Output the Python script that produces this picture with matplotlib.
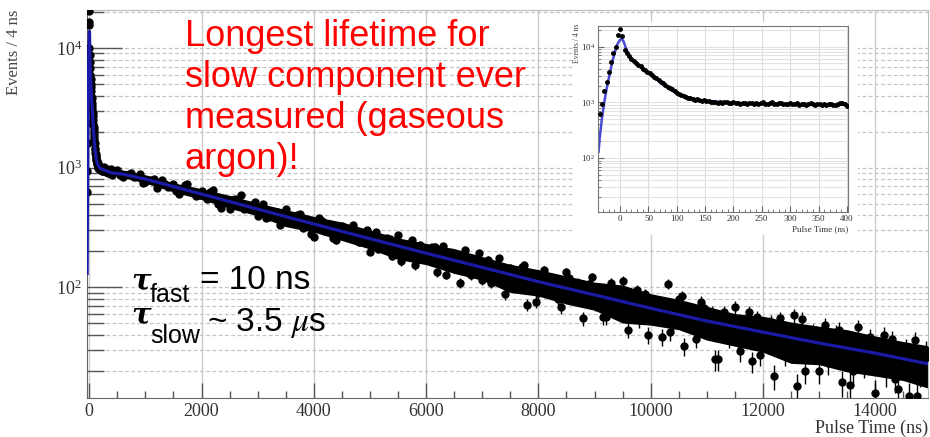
import numpy as np
import matplotlib
matplotlib.use("Agg")
import matplotlib.pyplot as plt
from matplotlib.ticker import LogLocator, MultipleLocator, NullFormatter
from matplotlib.patches import Rectangle

plt.rcParams['font.family'] = ['Liberation Serif', 'DejaVu Serif']
plt.rcParams['mathtext.fontset'] = 'stix'

# fast part (4 ns bins), shared by main plot and inset
t_fast = np.arange(-36, 401, 4)
n_fast = [620, 930, 1600, 2350, 3560, 5300, 7600, 10000, 16500, 20500,
          15500, 8700, 7600, 6800, 6000, 5500, 5000, 4700, 4400, 4000,
          3800, 3500, 3300, 3100, 2850, 2700, 2500, 2300, 2200, 2050,
          1900, 1800, 1700, 1600, 1450, 1400, 1330, 1300, 1250, 1220,
          1180, 1150, 1120, 1130, 1080, 1070, 1100, 1040, 1060, 1020,
          1000, 1030, 990, 1010, 980, 1000, 1020, 970, 990, 1000,
          960, 980, 950, 990, 970, 940, 960, 990, 950, 960,
          930, 980, 1000, 950, 940, 970, 1010, 950, 930, 960,
          980, 940, 950, 920, 960, 940, 930, 970, 910, 950,
          930, 900, 940, 960, 920, 900, 950, 930, 910, 940,
          900, 920, 950, 910, 900, 930, 960, 970, 930, 870]

# slow tail, read every 100 ns
t_slow = np.arange(500, 15000, 100)
n_slow = [951, 828, 884, 829, 880, 761, 786, 680, 786, 693,
          726, 601, 717, 636, 573, 636, 548, 651, 492, 550,
          449, 549, 586, 455, 490, 395, 491, 386, 427, 328,
          452, 364, 400, 312, 353, 264, 380, 293, 328, 247,
          327, 278, 331, 237, 271, 198, 290, 222, 256, 182,
          271, 188, 214, 152, 227, 182, 215, 133, 219, 151,
          182, 109, 205, 126, 159, 115, 170, 124, 174, 88,
          144, 104, 148, 71, 118, 89, 139, 90, 114, 68,
          133, 88, 109, 55, 107, 71, 90, 56, 108, 68,
          112, 44, 83, 53, 87, 61, 74, 38, 106, 49,
          80, 32, 58, 37, 75, 45, 62, 25, 62, 37,
          68, 29, 49, 24, 56, 38, 49, 18, 55, 27,
          43, 15, 54, 28, 43, 20, 48, 28, 42, 16,
          34, 20, 46, 22, 38, 13, 33, 19, 37, 14,
          29, 12.3, 36, 19, 30]

# more points in between
t_slow2 = np.arange(550, 15000, 200)
n_slow2 = [874, 907, 738, 798, 731, 634, 722, 594, 626, 461,
           534, 447, 516, 376, 421, 355, 408, 280, 355, 256,
           305, 256, 303, 207, 253, 164, 247, 184, 217, 127,
           175, 133, 192, 108, 145, 113, 153, 75, 122, 79,
           120, 84, 121, 56, 95, 63, 94, 40, 73, 42,
           84, 48, 67, 25, 52, 36, 62, 27, 51, 33,
           58, 20, 41, 23, 44, 15.3, 32, 23, 40, 17,
           31, 12.2, 26]

# spread of the dense band of points
t_band = [150, 400, 500, 1000, 1500, 2000, 2500, 3000, 3500, 4000, 4500, 5000,
          5500, 6000, 6500, 7000, 7500, 8000, 8500, 9000, 9500, 10000, 10500,
          11000, 11500, 12000, 12500, 13000, 13500, 14000, 14500, 15000]
band_hi = [1080, 990, 975, 870, 745, 665, 585, 505, 445, 390, 350, 300,
           258, 232, 210, 180, 155, 140, 124, 110, 104, 88, 79,
           69, 60, 57, 51, 47, 44, 39, 35, 32]
band_lo = [920, 860, 845, 740, 625, 540, 455, 395, 320, 288, 245, 208,
           170, 154, 130, 114, 90, 84, 72, 64, 50, 48, 44,
           36, 32, 28.5, 23, 22.4, 19.5, 18, 16.5, 14]

# fit curve
t_fit_fast = [-38, -36, -32, -28, -24, -20, -16, -12, -8, -4, 0, 3, 6, 10, 15, 20,
              30, 40, 50, 60, 70, 80, 90, 100, 120, 140, 160, 200, 250, 300, 350, 400]
f_fit_fast = [130, 230, 520, 1000, 1700, 2700, 4200, 6300, 8800, 11500, 13300, 13800,
              12500, 9500, 7300, 6200, 4800, 3900, 3300, 2800, 2300, 1950, 1650, 1450,
              1220, 1100, 1040, 980, 960, 940, 920, 900]
t_fit_slow = [600, 1000, 2000, 3000, 4000, 5000, 6000, 7000, 8000, 9000,
              10000, 11000, 12000, 13000, 14000, 15000]
f_fit_slow = [880, 801, 600, 449, 337, 254, 192, 146, 111, 86,
              66.5, 52, 42, 34, 28, 22.5]

W, H = 930, 437


def fx(px):
    return px / W


def fy(py):
    return 1 - py / H


fig = plt.figure(figsize=(9.3, 4.37), dpi=100)

# main plot
ax = fig.add_axes([fx(87), fy(398), fx(928) - fx(87), fy(10) - fy(398)])
ax.set_yscale('log')
ax.set_xlim(-40, 14940)
ax.set_ylim(11.8, 20800)

ax.fill_between(t_band, band_lo, band_hi, color='black', lw=0, zorder=2)
for tt, nn in [(t_slow, n_slow), (t_slow2, n_slow2), (t_fast, n_fast)]:
    ax.errorbar(tt, nn, yerr=np.sqrt(nn), fmt='o', ms=5, color='black',
                elinewidth=1, capsize=0, zorder=3)
ax.plot(t_fit_fast + t_fit_slow, f_fit_fast + f_fit_slow, color='#1a1aa6', lw=2.3, zorder=4)

ax.xaxis.set_major_locator(MultipleLocator(2000))
ax.xaxis.set_minor_locator(MultipleLocator(500))
ax.yaxis.set_major_locator(LogLocator(base=10))
ax.yaxis.set_minor_locator(LogLocator(base=10, subs=np.arange(2, 10)))
ax.yaxis.set_minor_formatter(NullFormatter())
ax.tick_params(axis='both', which='both', direction='in', colors='#555555',
               labelcolor='#333333', labelsize=13)
ax.tick_params(axis='x', which='major', length=11, width=1)
ax.tick_params(axis='x', which='minor', length=5, width=1)
ax.tick_params(axis='y', which='major', length=25, width=1)
ax.tick_params(axis='y', which='minor', length=12, width=1)
ax.grid(True, axis='x', which='major', color='#cccccc', lw=1)
ax.grid(True, axis='y', which='both', color='#c4c4c4', lw=0.9, ls=(0, (3, 2)))
ax.set_axisbelow(True)
for s in ax.spines.values():
    s.set_color('#666666')
ax.spines['top'].set_color('#bbbbbb')
ax.spines['right'].set_color('#bbbbbb')

fig.text(fx(14), fy(10), 'Events / 4 ns', rotation=90, ha='center', va='top',
         fontsize=12, color='#444444')
fig.text(fx(928), fy(428), 'Pulse Time (ns)', ha='right', va='center',
         fontsize=13, color='#333333')

# white box behind the inset
fig.patches.append(Rectangle((fx(575), fy(235)), fx(858) - fx(575), fy(22) - fy(235),
                             transform=fig.transFigure, facecolor='white',
                             edgecolor='none', zorder=1))

# inset
axi = fig.add_axes([fx(598), fy(212), fx(848) - fx(598), fy(26) - fy(212)], zorder=2)
axi.set_yscale('log')
axi.set_xlim(-39, 402)
axi.set_ylim(10.7, 23500)
axi.plot(t_fit_fast, f_fit_fast, color='#4848d4', lw=1.8, zorder=2)
axi.plot(t_fast, n_fast, 'o', ms=2.5, color='black', zorder=3)
axi.xaxis.set_major_locator(MultipleLocator(50))
axi.xaxis.set_minor_locator(MultipleLocator(10))
axi.yaxis.set_major_locator(LogLocator(base=10))
axi.yaxis.set_minor_locator(LogLocator(base=10, subs=np.arange(2, 10)))
axi.yaxis.set_minor_formatter(NullFormatter())
axi.tick_params(axis='both', which='both', direction='in', colors='#666666',
                labelcolor='#333333', labelsize=6.5, pad=2)
axi.tick_params(axis='both', which='major', length=4)
axi.tick_params(axis='both', which='minor', length=2)
axi.grid(True, axis='x', which='major', color='#dddddd', lw=0.8)
axi.grid(True, axis='y', which='both', color='#e2e2e2', lw=0.8)
axi.set_axisbelow(True)
for s in axi.spines.values():
    s.set_color('#777777')
fig.text(fx(577), fy(24), 'Events / 4 ns', rotation=90, ha='center', va='top',
         fontsize=5.5, color='#444444')
fig.text(fx(848), fy(229), 'Pulse Time (ns)', ha='right', va='center',
         fontsize=6.5, color='#333333')

# annotations
fig.text(fx(185), fy(19),
         'Longest lifetime for\nslow component ever\nmeasured (gaseous\nargon)!',
         family='Liberation Sans', fontsize=26, color='red', ha='left', va='top',
         linespacing=1.22)

tau = dict(family='DejaVu Serif', fontsize=21, fontweight='bold', fontstyle='italic',
           color='black', va='baseline', ha='left')
sub = dict(family='Liberation Sans', fontsize=18, color='black', va='baseline', ha='left')
big = dict(family='Liberation Sans', fontsize=24, color='black', va='baseline', ha='left')
fig.text(fx(131), fy(289), 'τ', **tau)
fig.text(fx(150), fy(302), 'fast', **sub)
fig.text(fx(200), fy(289), '= 10 ns', **big)
fig.text(fx(131), fy(323), 'τ', **tau)
fig.text(fx(150), fy(343), 'slow', **sub)
fig.text(fx(207), fy(331), r'~ 3.5 $\mu$s', **big)

fig.savefig('out.png', dpi=100)
